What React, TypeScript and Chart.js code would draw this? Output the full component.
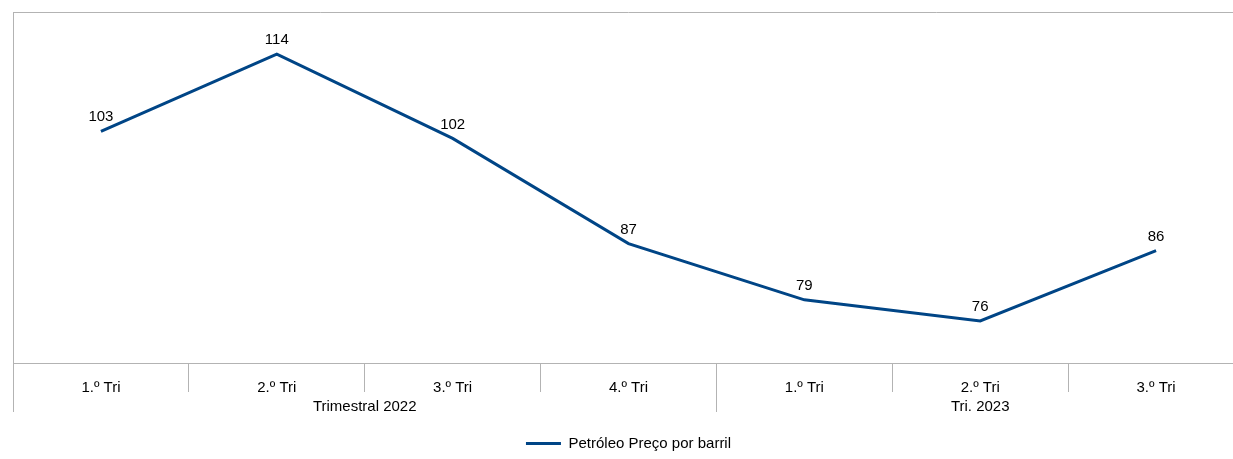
import React, { useEffect, useRef } from "react";
import { Chart, registerables } from "chart.js";

Chart.register(...registerables);

const categories = ["1.º Tri", "2.º Tri", "3.º Tri", "4.º Tri", "1.º Tri", "2.º Tri", "3.º Tri"];
const prices = [103, 114, 102, 87, 79, 76, 86];
const groupLabels = ["Trimestral 2022", "Tri. 2023"];
const groupSizes = [4, 3];
const seriesName = "Petróleo Preço por barril";

const LINE_COLOR = "#004586";
const FRAME = "#b3b3b3";
const FONT = "'Liberation Sans', Arial, sans-serif";

const framePlugin = {
  id: "frameAndLabels",
  afterDraw(chart: any) {
    const { ctx, chartArea } = chart;
    const xs = chart.scales.x;
    const groupBottom = 412;
    ctx.save();
    ctx.strokeStyle = FRAME;
    ctx.lineWidth = 1;
    ctx.beginPath();
    ctx.moveTo(chartArea.left, Math.round(chartArea.top) + 0.5);
    ctx.lineTo(chartArea.right, Math.round(chartArea.top) + 0.5);
    ctx.stroke();
    // group boundaries
    let start = 0;
    const bounds: number[] = [0];
    groupSizes.forEach((s) => {
      start += s;
      bounds.push(start);
    });
    bounds.forEach((b, i) => {
      const px = Math.round(xs.getPixelForValue(b - 0.5)) + 0.5;
      ctx.beginPath();
      ctx.moveTo(px, i === 0 ? chartArea.top : chartArea.bottom);
      ctx.lineTo(px, groupBottom);
      ctx.stroke();
    });
    // group labels
    ctx.fillStyle = "#000";
    ctx.font = `15px ${FONT}`;
    ctx.textAlign = "center";
    ctx.textBaseline = "middle";
    groupLabels.forEach((lab, i) => {
      const a = xs.getPixelForValue(bounds[i] - 0.5);
      const b = xs.getPixelForValue(bounds[i + 1] - 0.5);
      ctx.fillText(lab, (a + b) / 2, 407);
    });
    // data labels
    ctx.font = `15px ${FONT}`;
    const meta = chart.getDatasetMeta(0);
    meta.data.forEach((pt: any, i: number) => {
      ctx.fillText(String(prices[i]), pt.x, pt.y - 14);
    });
    ctx.restore();
  },
};

export default function App() {
  const ref = useRef<HTMLCanvasElement>(null);
  useEffect(() => {
    if (!ref.current) return;
    const chart = new Chart(ref.current, {
      type: "line",
      data: {
        labels: categories,
        datasets: [
          {
            label: seriesName,
            data: prices,
            borderColor: LINE_COLOR,
            backgroundColor: LINE_COLOR,
            borderWidth: 3,
            pointRadius: 0,
            tension: 0,
          },
        ],
      },
      options: {
        responsive: false,
        animation: false,
        layout: { padding: { left: 13, top: 12, right: 6, bottom: 0 } },
        scales: {
          x: {
            offset: true,
            grid: {
              display: true,
              offset: true,
              drawOnChartArea: false,
              drawTicks: true,
              tickLength: 29,
              color: FRAME,
              lineWidth: 1,
            },
            border: { display: true, color: FRAME, width: 1 },
            ticks: {
              color: "#000",
              padding: -13,
              maxRotation: 0,
              autoSkip: false,
              font: { family: FONT, size: 15 },
            },
            afterFit(scale: any) {
              scale.height = 63;
            },
          },
          y: {
            display: false,
            min: 70,
            max: 120,
          },
        },
        plugins: {
          tooltip: { enabled: false },
          legend: {
            position: "bottom",
            labels: {
              boxWidth: 35,
              boxHeight: 3,
              padding: 10,
              color: "#000",
              font: { family: FONT, size: 15 },
              generateLabels(c: any) {
                const items = Chart.defaults.plugins.legend.labels.generateLabels(c);
                return items.map((it: any) => ({ ...it, lineWidth: 0, fillStyle: LINE_COLOR }));
              },
            },
          },
        },
      },
      plugins: [framePlugin],
    });
    return () => chart.destroy();
  }, []);
  return (
    <div style={{ position: "fixed", left: 0, top: 0, width: 1233, height: 459, overflow: "hidden", background: "#fff" }}>
      <canvas ref={ref} width={1250} height={461} style={{ width: 1250, height: 461, display: "block" }} />
    </div>
  );
}
